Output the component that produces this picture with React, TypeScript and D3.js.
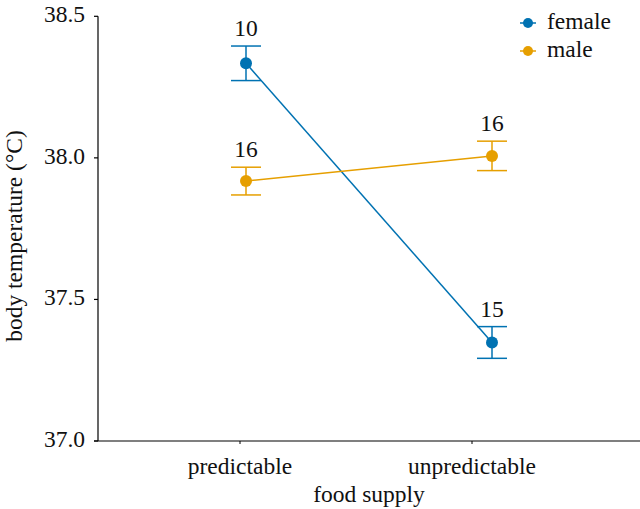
import React from "react";
import * as d3 from "d3";

const categories = ["predictable", "unpredictable"];
const seriesNames = ["female", "male"];
const femaleMean = [38.334, 37.348];
const femaleSE = [0.061, 0.056];
const femaleN = [10, 15];
const maleMean = [37.918, 38.007];
const maleSE = [0.049, 0.052];
const maleN = [16, 16];
const yTicks = [37.0, 37.5, 38.0, 38.5];
const colors = ["#0072B2", "#E69F00"];

const W = 640, H = 509;
const FONT = "'Liberation Serif', 'Times New Roman', Times, serif";
const ts: React.CSSProperties = { fontFamily: FONT, fontSize: 23.5 };

export default function App() {
  const y = d3.scaleLinear().domain([37.0, 38.5]).range([441, 16.3]);
  const xAxisScale = d3.scalePoint<string>().domain(categories).range([240, 472]);
  const xData = d3.scalePoint<string>().domain(categories).range([246, 492]);
  const series = [
    { name: seriesNames[0], mean: femaleMean, se: femaleSE, n: femaleN, color: colors[0] },
    { name: seriesNames[1], mean: maleMean, se: maleSE, n: maleN, color: colors[1] },
  ];
  const line = d3.line<number>().x((_, i) => xData(categories[i])!).y((d) => y(d));
  const axisX0 = 98;
  return (
    <svg width={W} height={H} style={{ position: "absolute", left: 0, top: 0 }}>
      <rect width={W} height={H} fill="#fff" />
      <line x1={axisX0} x2={axisX0} y1={y(38.5)} y2={y(37.0)} stroke="#000" strokeWidth={1.2} />
      <line x1={axisX0 - 4} x2={W} y1={y(37.0)} y2={y(37.0)} stroke="#000" strokeWidth={1.2} />
      {yTicks.map((t) => (
        <g key={t}>
          <line x1={axisX0 - 4} x2={axisX0} y1={y(t)} y2={y(t)} stroke="#000" strokeWidth={1.2} />
          <text x={85} y={y(t) + 6} textAnchor="end" style={ts} fill="#111">
            {t.toFixed(1)}
          </text>
        </g>
      ))}
      {categories.map((c) => (
        <g key={c}>
          <line x1={xAxisScale(c)} x2={xAxisScale(c)} y1={y(37.0)} y2={y(37.0) + 3} stroke="#000" strokeWidth={1} />
          <text x={xAxisScale(c)} y={474} textAnchor="middle" style={ts} fill="#111">{c}</text>
        </g>
      ))}
      <text x={369} y={502} textAnchor="middle" style={ts} fill="#111">food supply</text>
      <text transform={`translate(22,236) rotate(-90)`} textAnchor="middle" style={ts} fill="#111">
        body temperature (°C)
      </text>
      {series.map((s) => (
        <g key={s.name}>
          <path d={line(s.mean)!} fill="none" stroke={s.color} strokeWidth={1.5} />
          {s.mean.map((m, i) => {
            const cx = xData(categories[i])!;
            const top = y(m + s.se[i]);
            const bot = y(m - s.se[i]);
            return (
              <g key={i}>
                <line x1={cx} x2={cx} y1={top} y2={bot} stroke={s.color} strokeWidth={1.5} />
                <line x1={cx - 15} x2={cx + 15} y1={top} y2={top} stroke={s.color} strokeWidth={1.5} />
                <line x1={cx - 15} x2={cx + 15} y1={bot} y2={bot} stroke={s.color} strokeWidth={1.5} />
                <circle cx={cx} cy={y(m)} r={6} fill={s.color} />
                <text x={cx} y={top - 10} textAnchor="middle" style={ts} fill="#111">{s.n[i]}</text>
              </g>
            );
          })}
        </g>
      ))}
      {series.map((s, i) => (
        <g key={s.name} transform={`translate(528,${23 + i * 28})`}>
          <line x1={-8} x2={8} y1={0} y2={0} stroke={s.color} strokeWidth={1.5} />
          <circle r={5} fill={s.color} />
          <text x={19} y={6} style={ts} fill="#111">{s.name}</text>
        </g>
      ))}
    </svg>
  );
}
